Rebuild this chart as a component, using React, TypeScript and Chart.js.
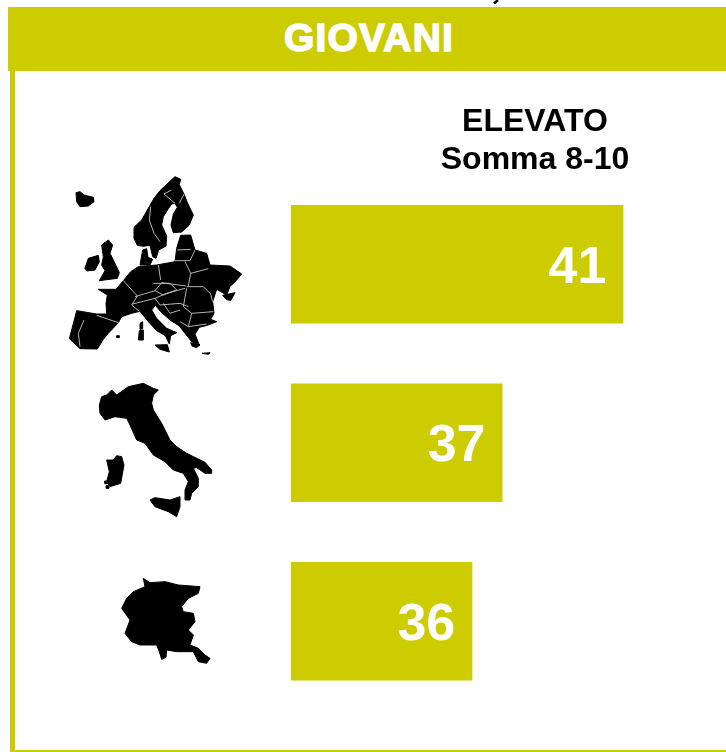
import React, { useEffect, useRef } from "react";
import { Chart, registerables } from "chart.js";

Chart.register(...registerables);

const categories = ["Europa", "Italia", "Friuli Venezia Giulia"];
const values = [41, 37, 36];
const panelTitle = "GIOVANI";
const headerLines = ["ELEVATO", "Somma 8-10"];
const LIME = "#CCCC00";
const FONT = '"Liberation Sans", Arial, sans-serif';

const europeLand = [
  "M48,68 60,65 72,75 100,82 102,95 85,108 60,110 50,95Z",
  "M345,20 362,28 358,44 372,72 383,100 400,135 388,165 365,186 340,188 333,165 340,132 352,112 345,100 335,102 325,116 310,140 305,165 320,198 318,228 296,240 288,265 278,260 270,226 250,229 232,226 222,205 222,172 245,150 262,120 282,85 300,62 318,45Z",
  "M125,225 145,210 158,225 150,250 160,270 178,308 172,325 118,332 135,302 125,285 130,260Z",
  "M75,295 85,265 115,256 118,275 105,300 80,303Z",
  "M248,240 260,236 264,262 278,268 270,285 240,285Z",
  "M362,196 392,195 405,240 440,250 450,285 510,288 545,312 530,330 510,350 500,375 470,358 458,395 462,430 452,448 470,455 442,466 418,472 405,492 418,526 395,515 375,490 358,468 330,450 302,425 286,406 275,420 290,445 320,475 350,488 332,497 328,522 316,497 290,482 265,455 240,424 215,430 185,440 175,458 145,490 130,508 112,537 60,536 28,506 45,442 50,422 110,432 140,432 138,400 142,375 115,358 168,358 190,332 212,305 235,290 290,285 345,275 350,235Z",
  "M285,525 322,524 328,546 300,538Z",
  "M238,482 250,480 250,510 235,510Z",
  "M240,460 248,455 248,476 240,478Z",
  "M392,518 420,524 410,533 396,528Z",
  "M488,376 525,368 512,392 498,388Z",
  "M426,550 450,548 446,553Z",
  "M170,497 178,497 178,503 170,503Z",
];
const europeBorders = [
  "M190,332 232,378 215,405 238,424",
  "M110,436 175,458",
  "M72,450 55,490 60,530",
  "M295,285 302,330",
  "M225,380 285,362 305,338 378,348",
  "M375,275 392,310 385,348",
  "M392,310 445,296",
  "M380,350 430,350 452,372 458,395",
  "M345,272 390,272 405,240",
  "M352,240 392,238",
  "M218,402 285,385 320,370 375,355",
  "M285,385 300,405 360,400 385,410",
  "M380,355 370,410 395,430 460,425",
  "M395,430 385,470 440,462",
  "M360,455 385,470",
  "M310,400 330,430 360,420",
  "M272,110 268,150 282,190 300,215",
  "M335,60 312,72 345,100",
  "M358,100 372,72",
  "M280,340 330,340 350,360 310,375 285,362",
];
const italyLand = [
  "M35,65 50,60 65,45 80,60 115,35 160,25 190,40 205,45 190,60 185,85 190,105 215,145 240,195 260,215 290,235 345,262 365,285 365,295 345,295 320,278 310,280 325,310 325,335 305,355 300,375 285,375 285,345 295,320 280,295 250,285 225,260 190,240 165,205 140,195 120,150 110,130 75,125 60,130 45,135 30,115 28,90Z",
  "M180,375 195,368 240,375 270,365 270,395 260,425 235,410 195,395Z",
  "M50,255 70,255 80,242 95,245 102,270 92,325 60,335 50,320 58,290Z",
  "M44,318 52,318 52,326 44,326Z",
  "M48,332 57,332 57,340 48,340Z",
];
const fvgLand = [
  "M100,25 120,38 165,35 205,45 270,50 265,70 235,85 215,110 220,125 250,130 255,155 235,180 250,195 240,225 265,235 285,255 300,265 290,280 265,275 250,245 230,245 200,245 170,240 168,262 155,268 148,245 140,225 90,225 65,215 45,190 60,150 35,115 50,85 70,65 105,50Z",
];

function MapShape(props: { left: number; top: number; w: number; h: number; land: string[]; borders?: string[] }) {
  const { left, top, w, h, land, borders } = props;
  return (
    <svg
      width={w}
      height={h}
      viewBox={`0 0 ${w * 3} ${h * 3}`}
      style={{ position: "absolute", left, top, filter: "blur(0.4px)" }}
    >
      {land.map((d, i) => (
        <path key={i} d={d} fill="#000" stroke="#000" strokeWidth={3} strokeLinejoin="round" />
      ))}
      {(borders || []).map((d, i) => (
        <path key={i} d={d} fill="none" stroke="#d0d0d0" strokeWidth={2.6} strokeLinejoin="round" />
      ))}
    </svg>
  );
}

const valueLabels = {
  id: "valueLabels",
  afterDatasetsDraw(chart: any) {
    const { ctx } = chart;
    const meta = chart.getDatasetMeta(0);
    ctx.save();
    ctx.fillStyle = "#fff";
    ctx.font = `bold 52px ${FONT}`;
    ctx.textAlign = "right";
    ctx.textBaseline = "middle";
    meta.data.forEach((bar: any, i: number) => {
      ctx.fillText(String(values[i]), bar.x - 17, bar.y + 4);
    });
    ctx.restore();
  },
};

export default function App() {
  const ref = useRef<HTMLCanvasElement | null>(null);

  useEffect(() => {
    if (!ref.current) return;
    const chart = new Chart(ref.current, {
      type: "bar",
      data: {
        labels: categories,
        datasets: [
          {
            data: values,
            backgroundColor: LIME,
            borderWidth: 0,
            barPercentage: 0.664,
            categoryPercentage: 1,
          },
        ],
      },
      options: {
        indexAxis: "y",
        responsive: false,
        animation: false,
        layout: { padding: { left: 291, right: 12, top: 175, bottom: 41.5 } },
        plugins: { legend: { display: false }, tooltip: { enabled: false } },
        scales: {
          x: { display: false, min: 30, max: 44 },
          y: { display: false },
        },
      },
      plugins: [valueLabels],
    } as any);
    return () => chart.destroy();
  }, []);

  return (
    <div style={{ position: "absolute", left: 0, top: 0, width: 726, height: 752, overflow: "hidden", background: "#fff", fontFamily: FONT }}>
      <canvas ref={ref} width={726} height={752} style={{ position: "absolute", left: 0, top: 0 }} />
      <div style={{ position: "absolute", left: 8, top: 7, width: 718, height: 63.5, background: LIME }} />
      <div
        style={{
          position: "absolute",
          left: 8,
          top: 7,
          width: 722,
          height: 63.5,
          lineHeight: "62px",
          textAlign: "center",
          color: "#fff",
          fontWeight: 700,
          fontSize: 39,
          letterSpacing: 1.2,
          WebkitTextStroke: "1.5px #fff",
        }}
      >
        {panelTitle}
      </div>
      <div style={{ position: "absolute", left: 10, top: 70, width: 5, height: 682, background: LIME }} />
      <div style={{ position: "absolute", left: 10, top: 750, width: 716, height: 2, background: LIME }} />
      <svg width={12} height={4} style={{ position: "absolute", left: 490, top: 0 }}>
        <path d="M8,0 L4,3.5" stroke="#000" strokeWidth={2.5} />
      </svg>
      <div
        style={{
          position: "absolute",
          left: 385,
          top: 101,
          width: 300,
          textAlign: "center",
          color: "#000",
          fontWeight: 700,
          fontSize: 32,
          lineHeight: "38px",
        }}
      >
        {headerLines.map((t) => (
          <div key={t}>{t}</div>
        ))}
      </div>
      <MapShape left={60} top={170} w={190} h={190} land={europeLand} borders={europeBorders} />
      <MapShape left={90} top={375} w={130} h={150} land={italyLand} />
      <MapShape left={110} top={570} w={110} h={100} land={fvgLand} />
    </div>
  );
}
